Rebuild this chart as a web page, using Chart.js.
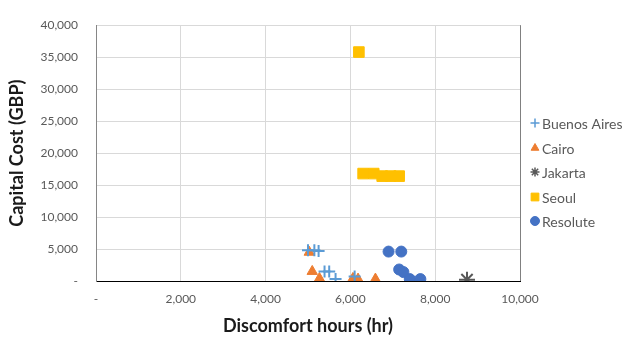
<!DOCTYPE html>
<html>
<head>
<meta charset="utf-8">
<script src="https://cdn.jsdelivr.net/npm/chart.js@4"></script>
<style>
  html, body { margin: 0; padding: 0; background: #fff; }
  #wrap { width: 628px; height: 340px; }
</style>
</head>
<body>
<div id="wrap"><canvas id="chart"></canvas></div>
<script>
// ===== Series data (discomfort hours vs capital cost) =====
const seriesNames = ['Buenos Aires', 'Cairo', 'Jakarta', 'Seoul', 'Resolute'];

const buenosX = [5000, 5150, 5250, 5390, 5500, 5650, 6100];
const buenosY = [4800, 4800, 4700, 1500, 1500, 300, 700];

const cairoX = [5030, 5100, 5270, 6060, 6180, 6590];
const cairoY = [4500, 1500, 400, 400, 300, 300];

const jakartaX = [8750];
const jakartaY = [200];

const seoulX = [6200, 6300, 6550, 6750, 6950, 7150];
const seoulY = [35800, 16800, 16800, 16400, 16400, 16400];

const resoluteX = [6900, 7200, 7150, 7250, 7400, 7650];
const resoluteY = [4600, 4600, 1800, 1400, 300, 300];

const xTicks = [0, 2000, 4000, 6000, 8000, 10000];
const yTicks = [0, 5000, 10000, 15000, 20000, 25000, 30000, 35000, 40000];

const toPoints = (xs, ys) => xs.map((x, i) => ({ x: x, y: ys[i] }));
const fmt = v => v === 0 ? '-' : v.toLocaleString('en-US');

const styles = [
  { color: '#5B9BD5', pointStyle: 'cross', radius: 6, border: 2 },
  { color: '#ED7D31', pointStyle: 'triangle', radius: 6, border: 1 },
  { color: '#595959', pointStyle: 'star', radius: 8, border: 2 },
  { color: '#FFC000', pointStyle: 'rect', radius: 7.5, border: 1 },
  { color: '#4472C4', pointStyle: 'circle', radius: 5.5, border: 1 }
];

const allX = [buenosX, cairoX, jakartaX, seoulX, resoluteX];
const allY = [buenosY, cairoY, jakartaY, seoulY, resoluteY];

const datasets = seriesNames.map((name, i) => ({
  label: name,
  data: toPoints(allX[i], allY[i]),
  pointStyle: styles[i].pointStyle,
  pointRadius: styles[i].radius,
  pointHoverRadius: styles[i].radius,
  pointBorderWidth: styles[i].border,
  borderColor: styles[i].color,
  backgroundColor: styles[i].color,
  showLine: false
}));

// legend drawn at the right of the plot area
const sideLegend = {
  id: 'sideLegend',
  afterDraw(chart) {
    const ctx = chart.ctx;
    const rows = [123, 148, 172, 197, 221];
    ctx.save();
    ctx.font = '14px Lato';
    ctx.textBaseline = 'middle';
    ctx.textAlign = 'left';
    chart.data.datasets.forEach((ds, i) => {
      const y = rows[i];
      ctx.strokeStyle = ds.borderColor;
      ctx.fillStyle = ds.backgroundColor;
      ctx.lineWidth = Math.min(ds.pointBorderWidth, 1.5);
      Chart.helpers.drawPoint(ctx, {
        pointStyle: ds.pointStyle,
        radius: ds.pointStyle === 'rect' ? 5.5 : 4.5,
        borderWidth: ctx.lineWidth,
        rotation: 0
      }, 535, y);
      ctx.fillStyle = '#595959';
      ctx.fillText(ds.label, 542, y + 1);
    });
    ctx.restore();
  }
};

// right edge of the plot frame
const frame = {
  id: 'frame',
  beforeDatasetsDraw(chart) {
    const a = chart.chartArea;
    const ctx = chart.ctx;
    ctx.save();
    ctx.strokeStyle = '#808080';
    ctx.lineWidth = 1;
    ctx.beginPath();
    ctx.moveTo(Math.round(a.right) + 0.5, a.top);
    ctx.lineTo(Math.round(a.right) + 0.5, a.bottom);
    ctx.stroke();
    ctx.restore();
  }
};

new Chart(document.getElementById('chart'), {
  type: 'scatter',
  data: { datasets: datasets },
  plugins: [sideLegend, frame],
  options: {
    responsive: true,
    maintainAspectRatio: false,
    animation: false,
    layout: { padding: { left: 0, right: 108, top: 16, bottom: 0 } },
    plugins: {
      legend: { display: false },
      tooltip: { enabled: false }
    },
    scales: {
      x: {
        type: 'linear',
        min: 0,
        max: 10000,
        afterBuildTicks: scale => { scale.ticks = xTicks.map(v => ({ value: v })); },
        afterFit: scale => { scale.height = 59; },
        ticks: {
          callback: v => fmt(v),
          color: '#595959',
          font: { family: 'Lato', size: 12 },
          padding: 11,
          maxRotation: 0
        },
        grid: { color: '#D9D9D9', drawTicks: false },
        border: { color: '#000000', width: 1 },
        title: {
          display: true,
          text: 'Discomfort hours (hr)',
          color: '#1a1a1a',
          font: { family: 'Lato', size: 18, weight: 'bold' },
          padding: { top: 4, bottom: 3 }
        }
      },
      y: {
        type: 'linear',
        min: 0,
        max: 40000,
        afterBuildTicks: scale => { scale.ticks = yTicks.map(v => ({ value: v })); },
        afterFit: scale => { scale.width = 96; },
        ticks: {
          callback: v => fmt(v),
          color: '#595959',
          font: { family: 'Lato', size: 12 },
          padding: 18
        },
        grid: { color: '#D9D9D9', drawTicks: false },
        border: { color: '#868686', width: 1 },
        title: {
          display: true,
          text: 'Capital Cost (GBP)',
          color: '#1a1a1a',
          font: { family: 'Lato', size: 18, weight: 'bold' },
          padding: { top: 6, bottom: 4 }
        }
      }
    }
  }
});
</script>
</body>
</html>
